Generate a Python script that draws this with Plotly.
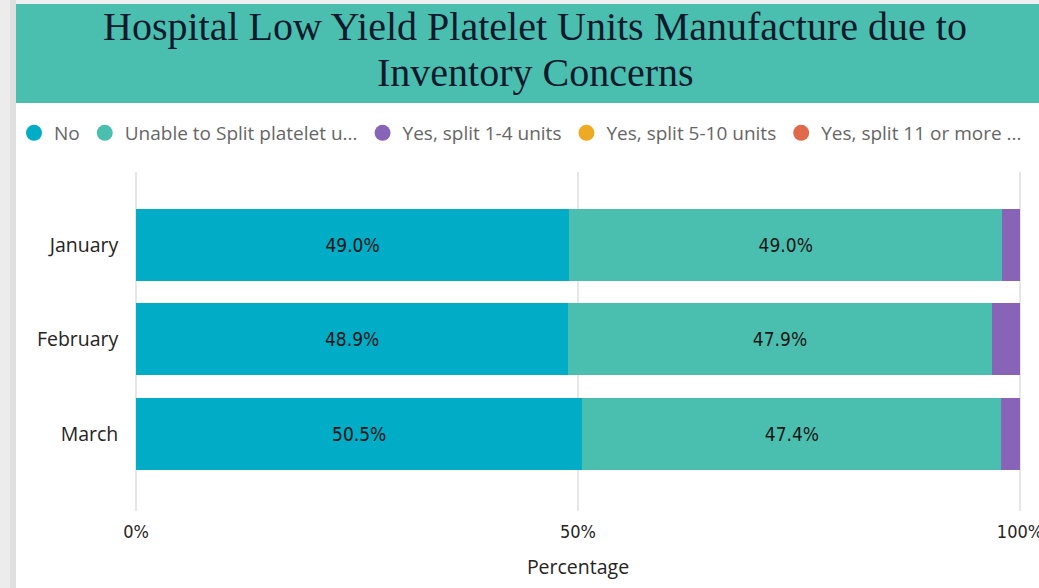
import plotly.graph_objects as go

months = ['January', 'February', 'March']
no_split = [49.0, 48.9, 50.5]
unable = [49.0, 47.9, 47.4]
split_1_4 = [2.0, 3.2, 2.1]
split_5_10 = [0, 0, 0]
split_11 = [0, 0, 0]

series = [
    ('No', no_split, '#00ACC6', True),
    ('Unable to Split platelet u...', unable, '#4BBFAF', True),
    ('Yes, split 1-4 units', split_1_4, '#8764B8', False),
    ('Yes, split 5-10 units', split_5_10, '#EEAA22', False),
    ('Yes, split 11 or more ...', split_11, '#E0694C', False),
]
x_ticks = [0, 50, 100]
x_ticktext = ['0%', '50%', '100%']

W, H = 1039, 588
pad = 0.3  # a little slack so the 0% / 100% gridlines are drawn
px_per = 884 / 100
fig = go.Figure()

for name, vals, color, lab in series:
    fig.add_trace(go.Bar(
        y=months, x=vals, orientation='h', name=name,
        marker=dict(color=color, line_width=0),
        width=0.762,
        texttemplate='%{x:.1f}%' if lab else '',
        textposition='inside', insidetextanchor='middle',
        textfont=dict(family='DejaVu Sans Condensed, Liberation Sans Narrow, Roboto', size=19, color='#161616'),
        showlegend=False, hoverinfo='x+y+name',
    ))
    # legend entry with round marker
    fig.add_trace(go.Scatter(
        x=[None], y=[None], mode='markers', name=name,
        marker=dict(color=color, size=18, symbol='circle'),
        showlegend=True,
    ))

fig.update_layout(
    width=W, height=H,
    margin=dict(l=0, r=0, t=0, b=0),
    paper_bgcolor='white', plot_bgcolor='white',
    barmode='stack',
    xaxis=dict(
        domain=[(136 - pad * px_per) / W, (1020 + pad * px_per) / W], range=[-pad, 100 + pad],
        tickvals=x_ticks, ticktext=x_ticktext, ticklabeloverflow='allow',
        showgrid=True, gridcolor='#E6E6E6', gridwidth=2, zeroline=False,
        tickfont=dict(family='DejaVu Sans Condensed, Liberation Sans Narrow, Roboto', size=18, color='#252423'),
        ticklabelstandoff=8, automargin=False,
        title=dict(text='Percentage', standoff=19,
                   font=dict(family='Open Sans', size=19.5, color='#252423')),
    ),
    yaxis=dict(
        domain=[1 - 511 / H, 1 - 172 / H],
        range=[2.815, -0.772], type='category',
        showgrid=False, zeroline=False, automargin=False,
        tickfont=dict(family='Open Sans', size=19.5, color='#252423'),
        ticklabelstandoff=14,
    ),
    legend=dict(
        orientation='h', x=14 / W, xanchor='left', y=1 - 133 / H, yanchor='middle',
        font=dict(family='Open Sans', size=19, color='#666666'),
        itemsizing='trace', traceorder='normal', bgcolor='rgba(0,0,0,0)',
    ),
    shapes=[
        dict(type='rect', xref='paper', yref='paper', x0=0, x1=1, y0=1 - 4 / H, y1=1,
             fillcolor='#EFEFEF', line_width=0, layer='below'),
        dict(type='rect', xref='paper', yref='paper', x0=0, x1=16 / W, y0=0, y1=1,
             fillcolor='#ECECEC', line_width=0, layer='below'),
        dict(type='rect', xref='paper', yref='paper', x0=10 / W, x1=16 / W, y0=0, y1=1,
             fillcolor='#E0E0E0', line_width=0, layer='below'),
        dict(type='rect', xref='paper', yref='paper', x0=16 / W, x1=1, y0=1 - 103 / H, y1=1 - 4 / H,
             fillcolor='#4BBFAF', line_width=0, layer='below'),
    ],
    annotations=[
        dict(text='Hospital Low Yield Platelet Units Manufacture due to',
             xref='paper', yref='paper', x=535 / W, y=1 - 27 / H, xanchor='center', yanchor='middle',
             showarrow=False, font=dict(family='Liberation Serif', size=40, color='#0B1A2C')),
        dict(text='Inventory Concerns',
             xref='paper', yref='paper', x=535 / W, y=1 - 73 / H, xanchor='center', yanchor='middle',
             showarrow=False, font=dict(family='Liberation Serif', size=40, color='#0B1A2C')),
    ],
)

fig.write_html('out.html', config={'displayModeBar': False},
               post_script="document.body.style.margin='0px';")
